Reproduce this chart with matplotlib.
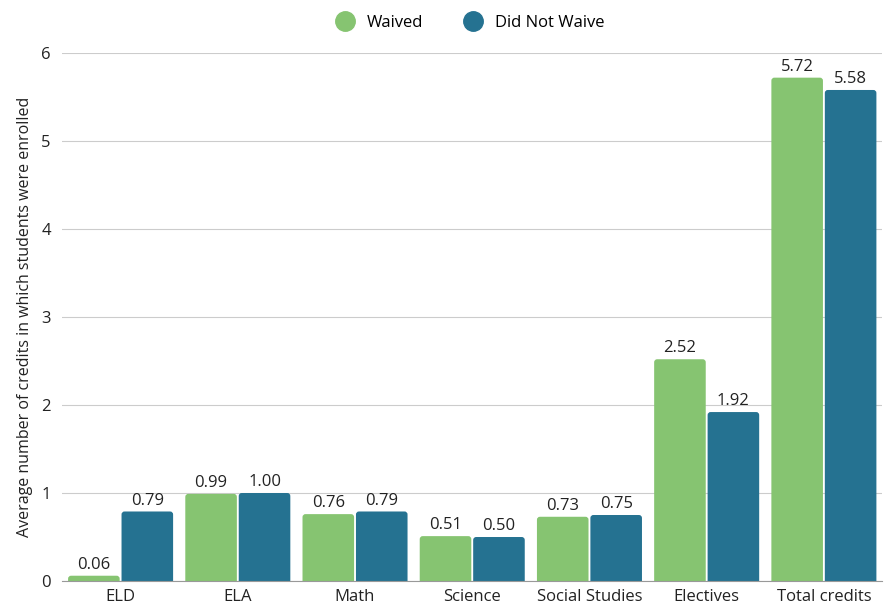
import matplotlib
matplotlib.use("Agg")
import matplotlib.pyplot as plt
import numpy as np
from matplotlib.lines import Line2D
from matplotlib.patches import FancyBboxPatch

categories = ["ELD", "ELA", "Math", "Science", "Social Studies", "Electives", "Total credits"]
waived = [0.06, 0.99, 0.76, 0.51, 0.73, 2.52, 5.72]
not_waived = [0.79, 1.00, 0.79, 0.50, 0.75, 1.92, 5.58]
series_names = ["Waived", "Did Not Waive"]
colors = ["#86C471", "#257291"]

plt.rcParams['font.family'] = ['Open Sans', 'DejaVu Sans']

fig = plt.figure(figsize=(8.88, 6.08), dpi=100)
ax = fig.add_axes([0.0698, 0.0444, 0.924, 0.8684])

x = np.arange(len(categories))
w = 0.44
off = 0.228
ax.set_xlim(-0.5, len(categories) - 0.5)
ax.set_ylim(0, 6)

# pixel scales for rounding corners
ax_w_px = 0.924 * 888
ax_h_px = 0.8684 * 608
px_x = len(categories) / ax_w_px
px_y = 6 / ax_h_px
r = 3 * px_x
aspect = px_y / px_x

for vals, xo, c in ((waived, -off, colors[0]), (not_waived, off, colors[1])):
    bars = ax.bar(x + xo, vals, w, color=c, zorder=3)
    for rect, v in zip(bars, vals):
        rect.set_visible(False)
        x0 = rect.get_x()
        ext = 4 * px_y
        p = FancyBboxPatch((x0, -ext), rect.get_width(), v + ext,
                           boxstyle=f"round,pad=0,rounding_size={r}",
                           mutation_aspect=aspect, facecolor=c, edgecolor="none", zorder=3)
        ax.add_patch(p)
        ax.annotate(f"{v:.2f}", (x0 + rect.get_width() / 2, v),
                    xytext=(0, 2), textcoords="offset points",
                    ha="center", va="bottom", fontsize=12, color="#222222")

ax.set_yticks(range(0, 7))
ax.set_xticks(x)
ax.set_xticklabels(categories, fontsize=12, color="#222222")
ax.tick_params(axis="y", labelsize=12, colors="#222222", length=0, pad=8)
ax.tick_params(axis="x", length=0, pad=6)
ax.grid(axis="y", color="#cccccc", linewidth=0.8, zorder=0)
for s in ["left", "right", "top"]:
    ax.spines[s].set_visible(False)
ax.spines["bottom"].set_color("#999999")
ax.spines["bottom"].set_zorder(4)
ax.set_ylabel("Average number of credits in which students were enrolled", fontsize=11.5, color="#222222", labelpad=6)

handles = [Line2D([0], [0], marker="o", linestyle="", markersize=14, markerfacecolor=c, markeredgecolor=c) for c in colors]
fig.legend(handles, series_names, loc="upper center", bbox_to_anchor=(0.525, 1.0), ncol=2, frameon=False,
           fontsize=12, handletextpad=0.3, columnspacing=2.0)

fig.savefig("out.png", dpi=100)
